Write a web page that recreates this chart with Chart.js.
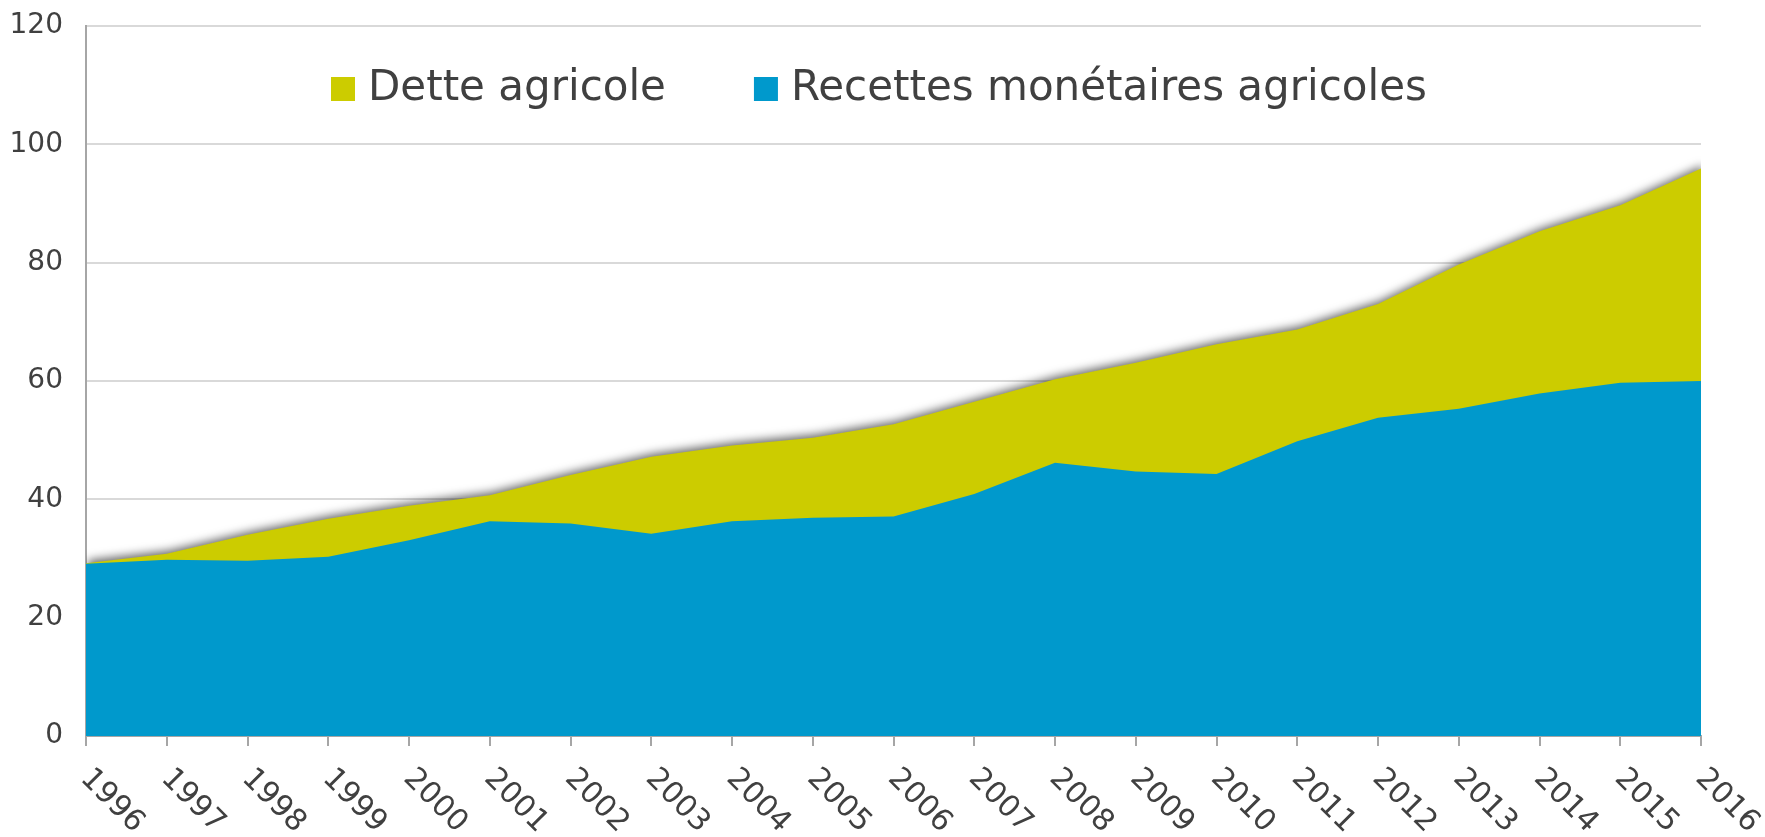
<!DOCTYPE html>
<html>
<head>
<meta charset="utf-8">
<script src="https://cdn.jsdelivr.net/npm/chart.js@4.4.1/dist/chart.umd.min.js"></script>
<style>
  html, body { margin: 0; padding: 0; background: #fff; }
  #wrap { width: 1765px; height: 837px; }
</style>
</head>
<body>
<div id="wrap"><canvas id="chart" width="1765" height="837"></canvas></div>
<script>
// données (milliards $)
const years = ['1996', '1997', '1998', '1999', '2000', '2001', '2002', '2003', '2004', '2005', '2006',
               '2007', '2008', '2009', '2010', '2011', '2012', '2013', '2014', '2015', '2016'];
const detteAgricole = [29.2, 30.8, 34.0, 36.7, 38.9, 40.7, 44.1, 47.2, 49.1, 50.4, 52.7,
                       56.5, 60.3, 63.1, 66.2, 68.7, 73.0, 79.7, 85.3, 89.7, 95.9];
const recettesAgricoles = [29.1, 29.8, 29.6, 30.3, 33.1, 36.3, 35.9, 34.2, 36.3, 36.9, 37.1,
                           40.9, 46.2, 44.7, 44.3, 49.8, 53.8, 55.3, 57.9, 59.7, 60.0];
const seriesNames = ['Dette agricole', 'Recettes monétaires agricoles'];
const seriesColors = ['#cccc00', '#0099cc'];
const yMin = 0, yMax = 120, yStep = 20;

const textColor = '#404040';
const fontFamily = '"DejaVu Sans", Verdana, sans-serif';

// ombre seulement sous la dette (aire du fond)
const shadowPlugin = {
    id: 'shadow',
    beforeDatasetsDraw(chart) {
        const ctx = chart.ctx;
        ctx.save();
        ctx.shadowColor = 'rgba(0,0,0,0.6)'; ctx.shadowBlur = 10; ctx.shadowOffsetX = 2; ctx.shadowOffsetY = -3;
    },
    afterDatasetDraw(chart, args) {
        if (args.index === 0) chart.ctx.shadowColor = 'rgba(0,0,0,0)';
    },
    afterDatasetsDraw(chart) { chart.ctx.restore(); }
};

// étiquettes des années, tournées vers le bas à droite
const yearLabels = {
    id: 'yearLabels',
    afterDraw(chart) {
        const ctx = chart.ctx, xs = chart.scales.x;
        ctx.save();
        ctx.font = '30px ' + fontFamily; ctx.fillStyle = textColor;
        ctx.textAlign = 'left'; ctx.textBaseline = 'middle';
        chart.data.labels.forEach((lab, i) => {
            ctx.save();
            ctx.translate(xs.getPixelForValue(i) - 1, xs.top + 38);
            ctx.rotate(Math.PI / 4);
            ctx.fillText(lab, 0, 0);
            ctx.restore();
        });
        ctx.restore();
    }
};

// légende dans la zone du graphique
const topLegend = {
    id: 'topLegend',
    afterDraw(chart) {
        const ctx = chart.ctx, area = chart.chartArea;
        ctx.save();
        ctx.font = '42px ' + fontFamily; ctx.textBaseline = 'middle'; ctx.textAlign = 'left';
        let x = area.left + 245; const y = area.top + 63;
        chart.data.datasets.forEach(ds => {
            ctx.fillStyle = ds.backgroundColor; ctx.fillRect(x, y - 12, 24, 24);
            x += 24 + 13;
            ctx.fillStyle = textColor; ctx.fillText(ds.label, x, y);
            x += ctx.measureText(ds.label).width + 88;
        });
        ctx.restore();
    }
};

new Chart(document.getElementById('chart'), {
    type: 'line',
    data: {
        labels: years,
        datasets: [
            { label: seriesNames[0], data: detteAgricole, backgroundColor: seriesColors[0], borderWidth: 0, fill: 'origin', pointRadius: 0, tension: 0, order: 1, clip: { left: 0, top: 20, right: 6, bottom: 0 } },
            { label: seriesNames[1], data: recettesAgricoles, backgroundColor: seriesColors[1], borderWidth: 0, fill: 'origin', pointRadius: 0, tension: 0, order: 0 }
        ]
    },
    options: {
        responsive: false, animation: false, devicePixelRatio: 1,
        layout: { padding: { top: 26, right: 64, left: 0, bottom: 0 } },
        plugins: { legend: { display: false }, tooltip: { enabled: false } },
        scales: {
            x: {
                offset: false,
                grid: { drawOnChartArea: false, drawTicks: true, tickLength: 10, color: '#a6a6a6', lineWidth: 2 },
                border: { color: '#a6a6a6', width: 2 },
                ticks: { display: false },
                afterFit: s => { s.height = 101; }
            },
            y: {
                min: yMin, max: yMax,
                ticks: { stepSize: yStep, padding: 23, color: textColor, font: { family: fontFamily, size: 28 } },
                grid: { color: '#d9d9d9', lineWidth: 2, drawTicks: false },
                border: { color: '#a6a6a6', width: 2 },
                afterFit: s => { s.width = 86; s.paddingTop = 0; s.paddingBottom = 0; }
            }
        }
    },
    plugins: [shadowPlugin, yearLabels, topLegend]
});
</script>
</body>
</html>
